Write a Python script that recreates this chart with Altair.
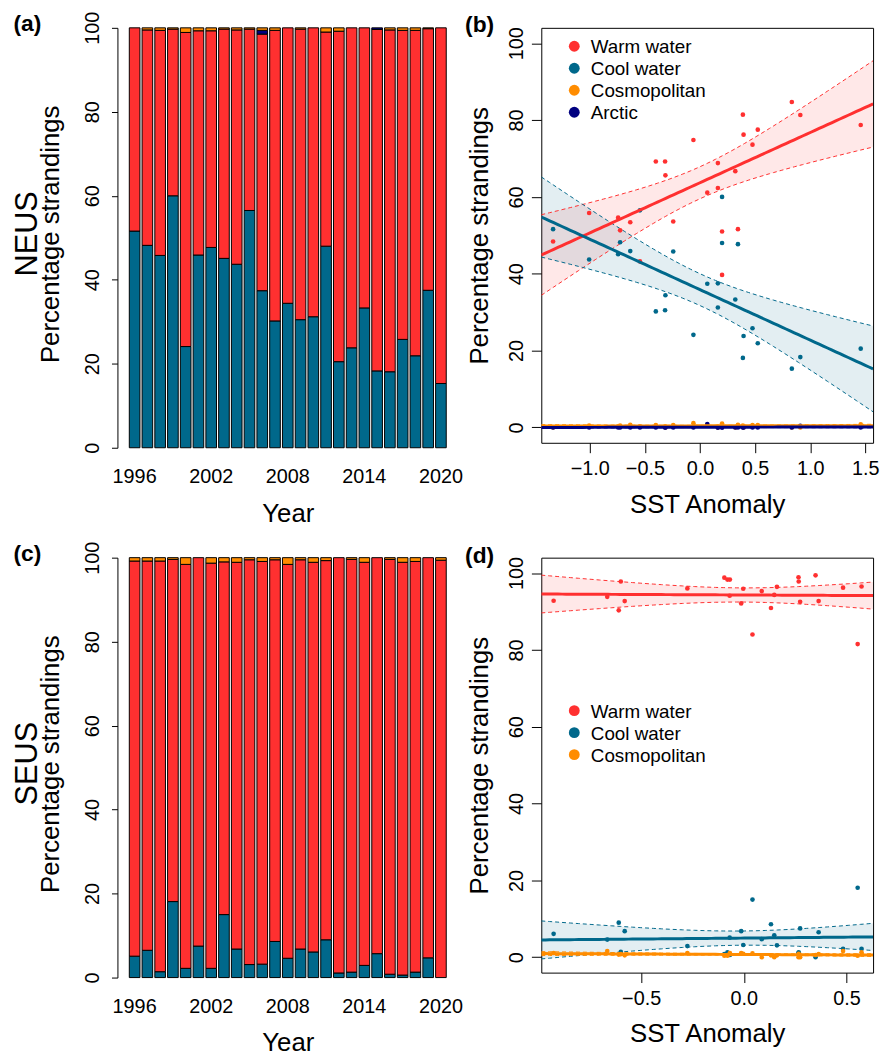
import altair as alt
import pandas as pd
import numpy as np

FONT = "Liberation Sans"
WARM, COOL, COSMO, ARCTIC = "#FF3030", "#00688B", "#FF8C00", "#000080"

years = list(range(1996, 2021))
tick_years = [1996, 2002, 2008, 2014, 2020]
pct_ticks = [0, 20, 40, 60, 80, 100]

# NEUS (panels a, b)
neus_cool = [51.6, 48.2, 45.8, 60.0, 24.1, 45.9, 47.7, 45.1, 43.7, 56.5, 37.4, 30.2, 34.4,
             30.5, 31.2, 48.0, 20.5, 23.8, 33.3, 18.3, 18.1, 25.8, 21.9, 37.5, 15.3]
neus_warm = [48.4, 51.3, 53.6, 39.7, 74.8, 53.4, 51.6, 54.6, 55.8, 43.2, 61.1, 69.2, 65.6,
             69.2, 68.8, 51.0, 78.7, 76.2, 66.7, 81.3, 81.4, 73.6, 77.5, 62.3, 84.7]
neus_cosmo = [0.0, 0.5, 0.6, 0.3, 1.1, 0.7, 0.7, 0.3, 0.5, 0.3, 0.6, 0.6, 0.0,
              0.3, 0.0, 1.0, 0.8, 0.0, 0.0, 0.0, 0.5, 0.6, 0.6, 0.2, 0.0]
neus_arctic = [0.0, 0.0, 0.0, 0.0, 0.0, 0.0, 0.0, 0.0, 0.0, 0.0, 0.9, 0.0, 0.0,
               0.0, 0.0, 0.0, 0.0, 0.0, 0.0, 0.4, 0.0, 0.0, 0.0, 0.0, 0.0]
neus_sst = [-1.333, -0.725, -0.243, 0.200, -0.060, -0.633, 0.344, -0.743, -1.006, -0.545,
            0.066, -0.401, -0.314, -0.317, 0.162, 0.200, 1.458, 0.395, 0.320, 0.910,
            0.389, 0.476, 0.524, 0.162, 0.833]

# SEUS (panels c, d)
seus_cool = [5.1, 6.5, 1.4, 18.1, 2.2, 7.5, 2.2, 15.0, 6.8, 3.1, 3.2, 8.6, 4.6,
             6.8, 6.1, 9.0, 1.1, 1.3, 2.9, 5.7, 0.8, 0.6, 1.3, 4.7, 0.0]
seus_warm = [94.1, 92.7, 97.8, 81.5, 96.2, 92.5, 96.5, 84.0, 92.1, 96.4, 95.9, 90.9, 93.8,
             92.7, 92.8, 90.3, 98.9, 98.3, 96.0, 94.3, 98.8, 98.3, 97.8, 95.3, 99.4]
seus_cosmo = [0.8, 0.8, 0.8, 0.4, 1.6, 0.0, 1.3, 1.0, 1.1, 0.5, 0.9, 0.5, 1.6,
              0.5, 1.1, 0.7, 0.0, 0.4, 1.1, 0.0, 0.4, 1.1, 0.9, 0.0, 0.6]
seus_arctic = [0.0] * 25
seus_sst = [-0.069, 0.364, -0.599, 0.554, 0.483, 0.274, 0.573, 0.042, -0.013, 0.161,
            -0.003, 0.132, -0.665, -0.580, -0.926, -0.609, 0.266, -0.080, -0.275, 0.148,
            -0.095, -0.068, 0.267, 0.087, 0.349]

panel_labels = ["(a)", "(b)", "(c)", "(d)"]
region_labels = ["NEUS", "SEUS"]
cats_bar = ["Cool water", "Warm water", "Arctic", "Cosmopolitan"]
bar_colors = [COOL, WARM, ARCTIC, COSMO]

W_BAR, H_BAR = 344, 424
W_SC, H_SC = 335, 419
T_CRIT = 2.0687  # t(0.975, df=23)


def text_layer(txt, x, y, size, bold=False, angle=0, align="left", baseline="alphabetic"):
    return alt.Chart(pd.DataFrame({"t": [txt]})).mark_text(
        font=FONT, fontSize=size, fontWeight="bold" if bold else "normal",
        angle=angle, align=align, baseline=baseline, color="black"
    ).encode(text="t:N", x=alt.value(x), y=alt.value(y))


def bar_panel(cool, warm, arctic, cosmo, plabel, region):
    rows = []
    for i, yr in enumerate(years):
        for o, (cat, vals) in enumerate(zip(cats_bar, [cool, warm, arctic, cosmo])):
            rows.append(dict(year=yr, cat=cat, value=vals[i], ord=o))
    df = pd.DataFrame(rows)
    bars = alt.Chart(df).transform_filter("datum.value > 0").mark_bar(
        stroke="black", strokeWidth=1
    ).encode(
        x=alt.X("year:O", scale=alt.Scale(paddingInner=0.1667, paddingOuter=0.93),
                axis=alt.Axis(values=tick_years, ticks=False, tickSize=0, domain=False,
                              labelAngle=0, labelFontSize=20, labelPadding=35,
                              labelBaseline="alphabetic", title="Year", titleFontSize=26,
                              titleFontWeight="normal", titleY=74, titleX=W_BAR / 2,
                              titleBaseline="alphabetic", titleAlign="center")),
        y=alt.Y("value:Q", stack="zero", scale=alt.Scale(domain=[0, 100], nice=False),
                axis=alt.Axis(values=pct_ticks, tickSize=6, labelAngle=270, labelAlign="center",
                              labelBaseline="alphabetic", labelPadding=13, labelFontSize=20,
                              labelOverlap=False, grid=False, domain=True,
                              title="Percentage strandings", titleFontSize=26,
                              titleFontWeight="normal", titleAngle=270, titleX=-60,
                              titleY=H_BAR / 2 - 4, titleAlign="center",
                              titleBaseline="alphabetic")),
        color=alt.Color("cat:N", scale=alt.Scale(domain=cats_bar, range=bar_colors), legend=None),
        order=alt.Order("ord:Q", sort="ascending"),
    )
    return alt.layer(
        bars,
        text_layer(region, -81.5, H_BAR / 2 - 4, 31, angle=270, align="center"),
        text_layer(plabel, -105, -14.5, 23, bold=True, baseline="top"),
    ).properties(width=W_BAR, height=H_BAR, view=alt.ViewBackground(stroke=None))


def fit_band(x, y, xgrid):
    x = np.asarray(x, float)
    y = np.asarray(y, float)
    n = len(x)
    b, a = np.polyfit(x, y, 1)
    s = np.sqrt(((y - (a + b * x)) ** 2).sum() / (n - 2))
    sxx = ((x - x.mean()) ** 2).sum()
    pred = a + b * xgrid
    se = s * np.sqrt(1.0 / n + (xgrid - x.mean()) ** 2 / sxx)
    return pred, pred - T_CRIT * se, pred + T_CRIT * se


def scatter_panel(series, sst, xdom, xticks, plabel, legend_top, label_dy):
    cats = [s[0] for s in series]
    cols = [s[2] for s in series]
    pts = pd.DataFrame([dict(cat=c, sst=sst[i], value=v[i])
                        for c, v, _ in series for i in range(len(sst))])
    xgrid = np.linspace(xdom[0], xdom[1], 81)
    frames = []
    for c, v, _ in series:
        pred, lo, hi = fit_band(sst, v, xgrid)
        frames.append(pd.DataFrame(dict(cat=c, x=xgrid, fit=pred, lo=lo, hi=hi)))
    fit = pd.DataFrame(pd.concat(frames, ignore_index=True))

    cscale = alt.Scale(domain=cats, range=cols)
    xs = alt.Scale(domain=xdom, nice=False, zero=False)
    ys = alt.Scale(domain=[-4, 104], nice=False)
    xaxis = alt.Axis(values=xticks, format=".1f", tickSize=10, labelPadding=22.5,
                     labelBaseline="alphabetic", labelFontSize=20, labelFlush=False,
                     labelOverlap=False, domain=False, grid=False, title="SST Anomaly",
                     titleFontSize=26, titleFontWeight="normal", titleY=70,
                     titleX=W_SC / 2, titleBaseline="alphabetic", titleAlign="center")
    yaxis = alt.Axis(values=pct_ticks, tickSize=10, labelAngle=270, labelAlign="center",
                     labelBaseline="alphabetic", labelPadding=8.7, labelFontSize=20,
                     labelOverlap=False, domain=False, grid=False,
                     title="Percentage strandings", titleFontSize=26, titleFontWeight="normal",
                     titleAngle=270, titleX=-54.5, titleY=H_SC / 2, titleAlign="center",
                     titleBaseline="alphabetic")

    band = alt.Chart(fit).mark_area(opacity=0.11, clip=True).encode(
        x=alt.X("x:Q", scale=xs, axis=xaxis), y=alt.Y("lo:Q", scale=ys, axis=yaxis),
        y2="hi:Q", color=alt.Color("cat:N", scale=cscale, legend=None))
    lo_line = alt.Chart(fit).mark_line(strokeDash=[4, 3], strokeWidth=1, clip=True).encode(
        x="x:Q", y="lo:Q", color=alt.Color("cat:N", scale=cscale, legend=None))
    hi_line = alt.Chart(fit).mark_line(strokeDash=[4, 3], strokeWidth=1, clip=True).encode(
        x="x:Q", y="hi:Q", color=alt.Color("cat:N", scale=cscale, legend=None))
    points = alt.Chart(pts).mark_circle(size=22, opacity=1).encode(
        x="sst:Q", y="value:Q", color=alt.Color("cat:N", scale=cscale, legend=None))
    fit_line = alt.Chart(fit).mark_line(strokeWidth=3, clip=True).encode(
        x="x:Q", y="fit:Q", color=alt.Color("cat:N", scale=cscale, legend=None))

    # legend drawn inside the plot, one row per series
    legend_layers = []
    for i, (c, col) in enumerate(zip(cats, cols)):
        ry = legend_top + 22.2 * i
        legend_layers.append(
            alt.Chart(pd.DataFrame({"t": [c]})).mark_circle(size=120, opacity=1, color=col)
            .encode(x=alt.value(33.3), y=alt.value(ry)))
        legend_layers.append(
            alt.Chart(pd.DataFrame({"t": [c]})).mark_text(
                font=FONT, fontSize=19, align="left", baseline="middle", color="black", dy=1)
            .encode(text="t:N", x=alt.value(50), y=alt.value(ry)))

    return alt.layer(
        band, lo_line, hi_line, points, fit_line, *legend_layers,
        text_layer(plabel, -77, label_dy - 15.5, 23, bold=True, baseline="top"),
    ).properties(width=W_SC, height=H_SC,
                 view=alt.ViewBackground(stroke="black", strokeWidth=1))


pa = bar_panel(neus_cool, neus_warm, neus_arctic, neus_cosmo, panel_labels[0], region_labels[0])
pc = bar_panel(seus_cool, seus_warm, seus_arctic, seus_cosmo, panel_labels[2], region_labels[1])
pb = scatter_panel(
    [("Warm water", neus_warm, WARM), ("Cool water", neus_cool, COOL),
     ("Cosmopolitan", neus_cosmo, COSMO), ("Arctic", neus_arctic, ARCTIC)],
    neus_sst, [-1.44, 1.57], [-1.0, -0.5, 0.0, 0.5, 1.0, 1.5], panel_labels[1], 18.6, 2)
pd_ = scatter_panel(
    [("Warm water", seus_warm, WARM), ("Cool water", seus_cool, COOL),
     ("Cosmopolitan", seus_cosmo, COSMO)],
    seus_sst, [-0.986, 0.629], [-0.5, 0.0, 0.5], panel_labels[3], 154.5, 3)

chart = alt.concat(
    pa, pb, pc, pd_, columns=2, spacing={"row": 111, "column": 84}, bounds="flush"
).resolve_scale(color="independent").properties(
    padding={"left": 3.5, "top": -2.1, "right": 0, "bottom": 0}
).configure_view(stroke=None).configure_axis(
    labelFont=FONT, titleFont=FONT, labelColor="black", titleColor="black",
    tickColor="black", domainColor="black", tickWidth=1, domainWidth=1
)

chart.save("out.html", embed_options={"renderer": "svg", "actions": False})
